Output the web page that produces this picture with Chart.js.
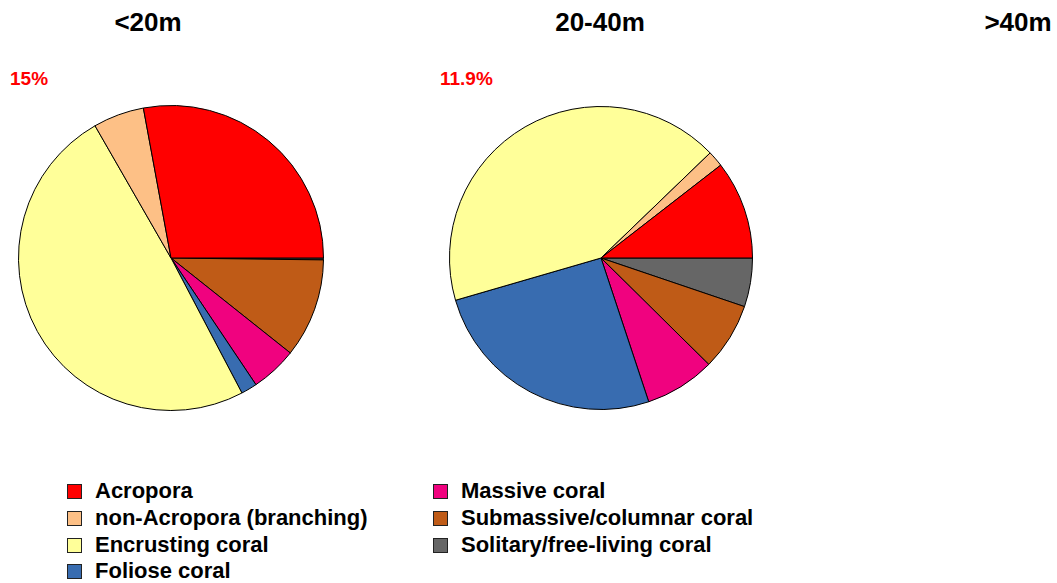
<!DOCTYPE html>
<html>
<head>
<meta charset="utf-8">
<script src="https://cdn.jsdelivr.net/npm/chart.js@4/dist/chart.umd.min.js"></script>
<style>
  body { margin:0; background:#fff; width:1057px; height:583px; position:relative; overflow:hidden;
         font-family:"Liberation Sans",Arial,sans-serif; }
  .title { position:absolute; top:7px; font:bold 26px "Liberation Sans",Arial,sans-serif; transform:translateX(-50%); white-space:nowrap; }
  .pct { position:absolute; top:68px; color:#ff0000; font:bold 19px "Liberation Sans",Arial,sans-serif; }
  .pie { position:absolute; }
  #legend { position:absolute; left:0; top:0; }
  .item { position:absolute; font-weight:bold; font-size:22px; white-space:nowrap; line-height:24px; }
  .item span.box { position:absolute; left:-28px; top:5px; width:13px; height:13px; border:1.5px solid #222; }
</style>
</head>
<body>
<div class="title" style="left:148px">&lt;20m</div>
<div class="title" style="left:600px">20-40m</div>
<div class="title" style="left:1018px">&gt;40m</div>
<div class="pct" style="left:10px" id="pct0"></div>
<div class="pct" style="left:440px" id="pct1"></div>
<div class="pie" style="left:18px;top:105px;width:306px;height:306px"><canvas id="pie0"></canvas></div>
<div class="pie" style="left:449px;top:106px;width:304px;height:304px"><canvas id="pie1"></canvas></div>
<div id="legend"></div>
<script>
// categories in R order (counter-clockwise from 3 o'clock)
const categories = ['Acropora','non-Acropora (branching)','Encrusting coral','Foliose coral','Massive coral','Submassive/columnar coral','Solitary/free-living coral'];
const colors = ['#FF0000','#FDC086','#FFFF99','#386CB0','#F0027F','#BF5B17','#666666'];
// share (%) per depth zone
const shallow = [27.9, 5.4, 49.4, 1.7, 4.9, 10.5, 0.2];
const mid = [10.5, 1.7, 42.3, 25.6, 7.5, 7.2, 5.2];
const coverLabels = ['15%', '11.9%'];

document.getElementById('pct0').textContent = coverLabels[0];
document.getElementById('pct1').textContent = coverLabels[1];

// Chart.js draws clockwise from top; reverse + rotate to mimic R's pie()
function makePie(id, values){
  new Chart(document.getElementById(id), {
    type:'pie',
    data:{
      labels: categories.slice().reverse(),
      datasets:[{
        data: values.slice().reverse(),
        backgroundColor: colors.slice().reverse(),
        borderColor:'#000',
        borderWidth:1
      }]
    },
    options:{
      responsive:true, maintainAspectRatio:false, animation:false,
      rotation:90,
      layout:{padding:0},
      plugins:{legend:{display:false}, tooltip:{enabled:false}}
    }
  });
}
makePie('pie0', shallow);
makePie('pie1', mid);

// legend, two columns
const legend = document.getElementById('legend');
const colX = [95, 461];
const rowY = [479, 506, 533, 559];
categories.forEach((c,i)=>{
  const col = i < 4 ? 0 : 1;
  const row = i < 4 ? i : i - 4;
  const d = document.createElement('div');
  d.className = 'item';
  d.style.left = colX[col] + 'px';
  d.style.top = rowY[row] + 'px';
  d.innerHTML = `<span class="box" style="background:${colors[i]}"></span>${c}`;
  legend.appendChild(d);
});
</script>
</body>
</html>
